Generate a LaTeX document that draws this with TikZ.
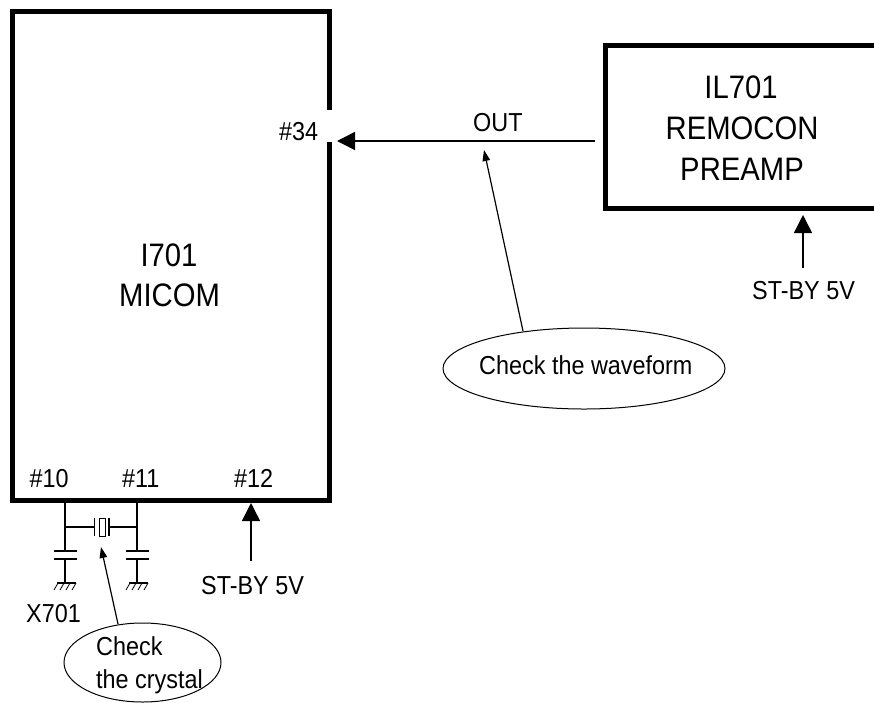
\documentclass[tikz,border=0pt]{standalone}
\usepackage{fontspec}
\setmainfont[FakeStretch=0.9]{Liberation Sans}
\usetikzlibrary{arrows.meta,calc,shapes.geometric}
\tikzset{
  chip/.style={draw=black,line width=5pt,fill=white,rectangle,inner sep=0pt},
  lbl/.style={inner sep=0pt,anchor=base west,font=\fontsize{26}{30}\selectfont},
  biglbl/.style={inner sep=0pt,anchor=base,font=\fontsize{32.5}{38}\selectfont},
  callout/.style={draw=black,line width=1pt,ellipse,inner sep=0pt},
  wire/.style={line width=1.1pt},
  bigarrow/.style={line width=1.5pt,-{Triangle[length=18pt,width=18pt]}},
  smallarrow/.style={line width=1.2pt,-{Triangle[length=11pt,width=7.5pt]}},
}
\begin{document}
\begin{tikzpicture}[x=1pt,y=-1pt]
\useasboundingbox (0,0) rectangle (874,702);
% boxes
\node[chip,minimum width=317pt,minimum height=488.5pt] (micom) at (171,255.75) {};
\node[chip,minimum width=300pt,minimum height=163pt] (preamp) at (755,126.5) {};
\fill[white] (325,110) rectangle (334,142);
% box labels
\node[biglbl] (i701) at (169,266) {I701};
\node[biglbl] (micomt) at (169.5,306) {MICOM};
\node[biglbl] (il701) at (741,98) {IL701};
\node[biglbl] (remocon) at (742,139) {REMOCON};
\node[biglbl] (pre) at (742,180) {PREAMP};
% pin labels
\node[lbl] (p34) at (279,140) {\#34};
\node[lbl] (p10) at (29.5,487) {\#10};
\node[lbl] (p11) at (122,487) {\#11};
\node[lbl] (p12) at (234,487) {\#12};
\node[lbl] (out) at (473,131.5) {OUT};
\node[lbl] (sb1) at (201,594) {ST-BY 5V};
\node[lbl] (sb2) at (752,299) {ST-BY 5V};
\node[lbl] (x701) at (26,622) {X701};
% callouts
\node[callout,minimum width=282pt,minimum height=81pt] (cw) at (584,368.5) {};
\node[lbl] (cwt) at (479,374) {Check the waveform};
\node[callout,minimum width=157pt,minimum height=79pt] (cc) at (142.5,662.5) {};
\node[lbl] (cc1) at (96,655) {Check};
\node[lbl] (cc2) at (96,688) {the crystal};
% main arrows
\coordinate (outsrc) at (595,141);
\coordinate (pin34) at (337,141);
\draw[bigarrow] (outsrc) -- (pin34);
\coordinate (sb2top) at (803,268);
\coordinate (pretip) at (803,215);
\draw[bigarrow] (sb2top) -- (pretip);
\coordinate (sb1top) at (251,561);
\coordinate (pin12) at (251,503);
\draw[bigarrow] (sb1top) -- (pin12);
% callout arrows
\coordinate (cwtail) at (523,331);
\coordinate (cwtip) at (484,150);
\draw[smallarrow] (cwtail) -- (cwtip);
\coordinate (cctail) at (118,624);
\coordinate (cctip) at (101,547);
\draw[smallarrow] (cctail) -- (cctip);
% crystal circuit
\coordinate (j1) at (65,527);
\coordinate (j2) at (137,527);
\draw[wire] (65,502) -- (j1) -- (65,551);
\draw[wire] (137,502) -- (j2) -- (137,551);
\draw[wire] (j1) -- (94.5,527);
\draw[wire] (109,527) -- (j2);
\draw[wire] (94.5,518) -- (94.5,536);
\draw[wire] (109,518) -- (109,536);
\draw[line width=0.9pt] (99.5,518) rectangle (105.5,536);
\foreach \x in {65,137}{
  \draw[wire] (\x-11.5,551) -- (\x+11.5,551);
  \draw[wire] (\x-11.5,559) -- (\x+11.5,559);
  \draw[wire] (\x,559) -- (\x,583);
  \draw[wire] (\x-8,583) -- (\x+11,583);
  \foreach \d in {-7,-1,5,11}
    \draw[line width=0.8pt] (\x+\d,583) -- (\x+\d-4,590);
}
\end{tikzpicture}
\end{document}
